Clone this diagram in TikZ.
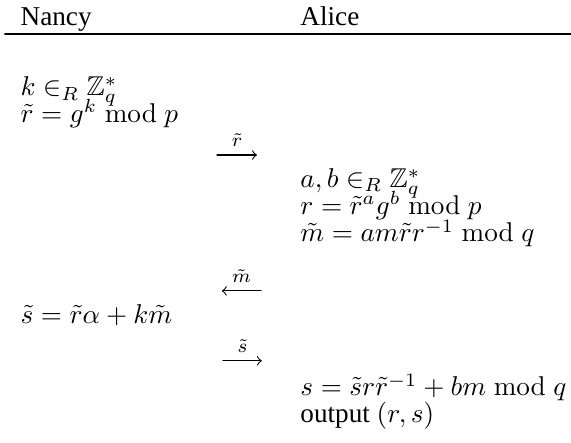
\documentclass[tikz,border=0pt]{standalone}
\usepackage{amsmath,amssymb}
\usepackage[no-math]{fontspec}
\setmainfont{Liberation Serif}
\usepackage{tikz}

\begin{document}
\begin{tikzpicture}[x=1pt,y=1pt,>=to,line cap=round,
  txt/.style={anchor=base west,inner sep=0pt},
  lbl/.style={font=\scriptsize,above=2pt,inner sep=1pt}]
\useasboundingbox (0,0) rectangle (210,-162.9);
% header
\node[txt] (nancy) at (7.4,-9.2) {Nancy};
\node[txt] (alice) at (110.3,-9.2) {Alice};
\coordinate (hl) at (1.8,-12.5);
\coordinate (hr) at (210,-12.5);
\draw[line width=0.5pt] (hl) -- (hr);
% Nancy commits
\node[txt] (n1) at (7.4,-35.3) {$k \in_R \mathbb{Z}_q^*$};
\node[txt] (n2) at (7.4,-44.9) {$\tilde{r} = g^k \bmod p$};
\coordinate (a1) at (79.8,-57);
\coordinate (b1) at (94.5,-57);
\draw[->] (a1) -- node[lbl] (l1) {$\tilde{r}$} (b1);
% Alice blinds
\node[txt] (a1t) at (110.3,-69.1) {$a, b \in_R \mathbb{Z}_q^*$};
\node[txt] (a2t) at (110.3,-79) {$r = \tilde{r}^a g^b \bmod p$};
\node[txt] (a3t) at (110.3,-89) {$\tilde{m} = a m \tilde{r} r^{-1} \bmod q$};
\coordinate (a2) at (81.6,-107);
\coordinate (b2) at (96,-107);
\draw[->] (b2) -- node[lbl] (l2) {$\tilde{m}$} (a2);
% Nancy signs
\node[txt] (n3) at (7.4,-119.1) {$\tilde{s} = \tilde{r}\alpha + k\tilde{m}$};
\coordinate (a3) at (82,-132.7);
\coordinate (b3) at (96.3,-132.7);
\draw[->] (a3) -- node[lbl] (l3) {$\tilde{s}$} (b3);
% Alice unblinds
\node[txt] (a4t) at (110.3,-145.6) {$s = \tilde{s} r \tilde{r}^{-1} + bm \bmod q$};
\node[txt] (a5t) at (110.3,-155.5) {output $(r, s)$};
\end{tikzpicture}
\end{document}
